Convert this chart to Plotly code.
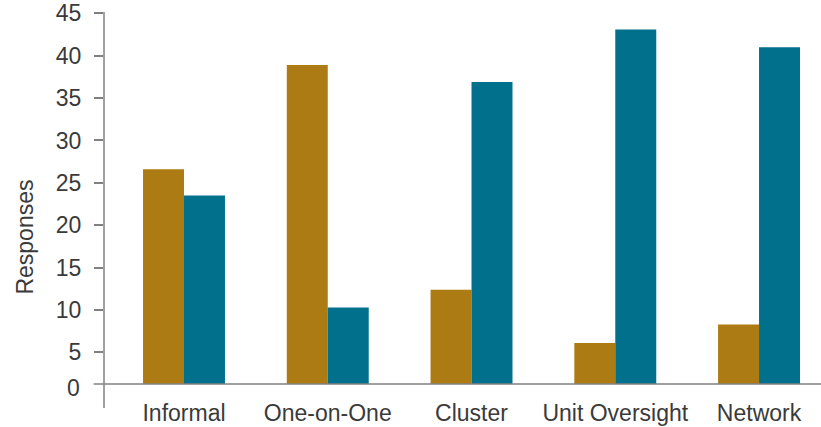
import plotly.graph_objects as go

categories = ["Informal", "One-on-One", "Cluster", "Unit Oversight", "Network"]
series_gold = [26.6, 38.9, 12.4, 6.1, 8.3]
series_teal = [23.5, 10.3, 36.9, 43.1, 41.0]
y_ticks = [5, 10, 15, 20, 25, 30, 35, 40, 45]

GOLD = "#AD7B13"
TEAL = "#01708C"
TEXT = "#3a3a3a"
AXIS = "#808080"
FONT = "Liberation Sans, Arial, sans-serif"
SIZE = 23

fig = go.Figure()
fig.add_trace(go.Bar(x=categories, y=series_gold, marker=dict(color=GOLD, line=dict(width=0))))
fig.add_trace(go.Bar(x=categories, y=series_teal, marker=dict(color=TEAL, line=dict(width=0))))

fig.update_layout(
    width=821, height=427,
    margin=dict(l=104, r=0, t=13, b=43),
    paper_bgcolor="white", plot_bgcolor="white",
    barmode="group", bargap=0.43, bargroupgap=0,
    showlegend=False,
    font=dict(family=FONT, size=SIZE, color=TEXT),
)
fig.update_xaxes(
    type="category", range=[-0.5565, 4.431],
    showgrid=False, zeroline=False, showline=False,
    ticks="outside", ticklen=8, tickcolor="rgba(0,0,0,0)",
    tickfont=dict(size=SIZE, color=TEXT),
)
fig.update_yaxes(
    range=[1.27, 45.04], tickvals=y_ticks,
    showgrid=False, zeroline=False, showline=False,
    ticks="outside", ticklen=9, tickwidth=1.5, tickcolor=AXIS,
    tickfont=dict(size=SIZE, color=TEXT),
    ticklabelstandoff=8,
)

# axis lines that run past the plotting area
fig.add_shape(type="line", xref="paper", yref="paper",
              x0=0, x1=0, y0=1.003, y1=-0.065,
              line=dict(color=AXIS, width=1.5))
fig.add_shape(type="line", xref="paper", yref="paper",
              x0=-0.0145, x1=1, y0=0, y1=0,
              line=dict(color=AXIS, width=1.5))

# zero label sits below the baseline
fig.add_annotation(text="0", xref="paper", yref="paper",
                   x=-0.031, y=-0.012, xanchor="right", yanchor="middle",
                   showarrow=False, font=dict(size=SIZE, color=TEXT))
# y axis title
fig.add_annotation(text="Responses", xref="paper", yref="paper",
                   x=-0.110, y=0.395, xanchor="center", yanchor="middle",
                   textangle=-90, showarrow=False,
                   font=dict(size=SIZE, color=TEXT))

fig.write_html("out.html")
